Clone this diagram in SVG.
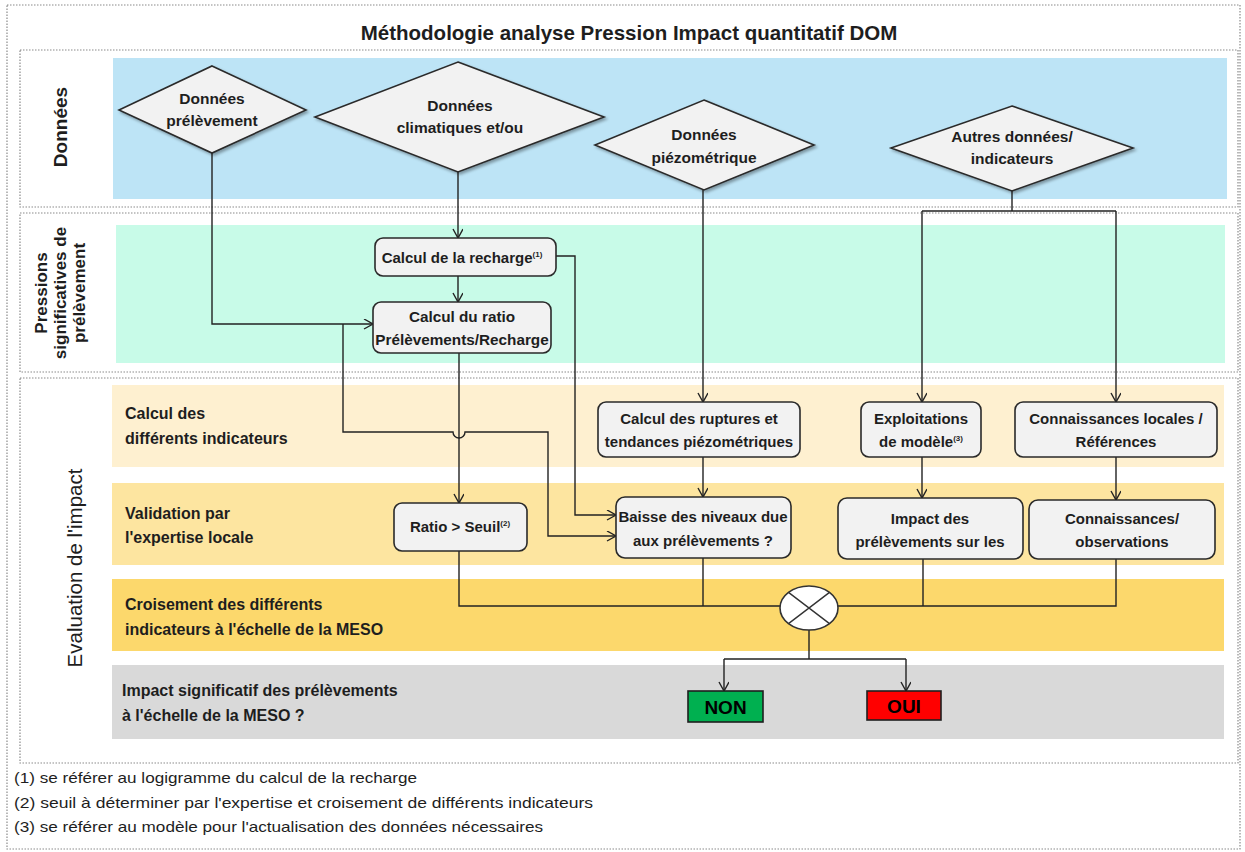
<svg xmlns="http://www.w3.org/2000/svg" width="1245" height="852" viewBox="0 0 1245 852">
<style>
text{font-family:"Liberation Sans",Arial,sans-serif;fill:#1e1e1e}
.t{font-size:20.5px;font-weight:bold;text-anchor:middle}
.sec{font-size:17px;font-weight:bold;text-anchor:middle}
.band{font-size:16px;font-weight:bold}
.bx{font-size:15px;font-weight:bold;text-anchor:middle}
.dt{font-size:15.5px;font-weight:bold;text-anchor:middle}
.sup{font-size:8px;font-weight:bold}
.fn{font-size:15px}
.frame{fill:none;stroke:#8a8a8a;stroke-width:1.2;stroke-dasharray:1.5 1.5}
.node{fill:#f2f2f2;stroke:#2a2a2a;stroke-width:1.6}
.dia{fill:#f2f2f2;stroke:#2a2a2a;stroke-width:1.6;filter:url(#sh)}
.c{fill:none;stroke:#222;stroke-width:1.4}
.ca{fill:none;stroke:#222;stroke-width:1.4;marker-end:url(#ar)}
.yn{font-size:19px;font-weight:bold;text-anchor:middle;fill:#000}
</style>
<defs>
<marker id="ar" markerUnits="userSpaceOnUse" markerWidth="12" markerHeight="12" refX="10" refY="5" orient="auto">
<path d="M1,0 L10,5 L1,10" fill="none" stroke="#222" stroke-width="1.4"/>
</marker>
<filter id="sh" x="-10%" y="-10%" width="130%" height="130%">
<feDropShadow dx="2" dy="2" stdDeviation="1.5" flood-color="#000" flood-opacity="0.35"/>
</filter>
</defs>
<rect x="0" y="0" width="1245" height="852" fill="#fff"/>
<rect x="7" y="5" width="1233" height="844" class="frame"/>
<text class="t" x="629" y="40">Méthodologie analyse Pression Impact quantitatif DOM</text>

<g id="lane-donnees">
<rect x="20" y="50" width="1218" height="157" class="frame"/>
<rect x="113" y="58" width="1114" height="141" fill="#bde4f6"/>
<text class="sec" transform="translate(67,127) rotate(-90)" style="font-size:19px">Données</text>
</g>
<g id="lane-pressions">
<rect x="20" y="213" width="1218" height="159" class="frame"/>
<rect x="116" y="225" width="1109" height="138" fill="#c8fbe8"/>
<text class="sec" transform="translate(47,293) rotate(-90)">Pressions</text>
<text class="sec" transform="translate(66,293) rotate(-90)">significatives de</text>
<text class="sec" transform="translate(85,293) rotate(-90)">prélèvement</text>
</g>
<g id="lane-evaluation">
<rect x="20" y="378" width="1218" height="385" class="frame"/>
<rect x="112" y="385" width="1112" height="82" fill="#fef0d0"/>
<rect x="112" y="483" width="1112" height="82" fill="#fde5a0"/>
<rect x="112" y="579" width="1112" height="72" fill="#fcd86c"/>
<rect x="112" y="665" width="1112" height="74" fill="#d9d9d9"/>
<text transform="translate(82,568) rotate(-90)" style="font-size:20.5px;text-anchor:middle">Evaluation de l'impact</text>
<text class="band" x="125" y="419">Calcul des</text>
<text class="band" x="125" y="444">différents indicateurs</text>
<text class="band" x="125" y="519">Validation par</text>
<text class="band" x="125" y="543">l'expertise locale</text>
<text class="band" x="125" y="610">Croisement des différents</text>
<text class="band" x="125" y="635">indicateurs à l'échelle de la MESO</text>
<text class="band" x="122" y="696">Impact significatif des prélèvements</text>
<text class="band" x="122" y="721">à l'échelle de la MESO ?</text>
</g>

<g id="connectors">
<path class="ca" d="M212,153 V324 H373"/>
<path class="ca" d="M458,172 V238"/>
<path class="ca" d="M458,276 V302"/>
<path class="ca" d="M556,256 H575 V515 H616"/>
<path class="ca" d="M343,324 V432 H453 A6,6 0 0,0 465,432 H548 V536 H616"/>
<path class="ca" d="M459,353 V503"/>
<path class="ca" d="M703,190 V402"/>
<path class="ca" d="M703,457 V497"/>
<path class="c" d="M1012,191 V211 M922,211 H1116"/>
<path class="ca" d="M922,211 V402"/>
<path class="ca" d="M1116,211 V402"/>
<path class="ca" d="M922,457 V498"/>
<path class="ca" d="M1116,457 V500"/>
<path class="c" d="M459,551 V606 H780 M703,558 V606 M923,559 V606 M1116,559 V606 H838"/>
<path class="c" d="M809,630 V659 M724,659 H906"/>
<path class="ca" d="M724,659 V691"/>
<path class="ca" d="M906,659 V691"/>
</g>

<g id="d-prelevement">
<polygon class="dia" points="212,66 306,110 212,153 119,110"/>
<text class="dt" x="212" y="104">Données</text>
<text class="dt" x="212" y="126">prélèvement</text>
</g>
<g id="d-climatiques">
<polygon class="dia" points="458,62 604,117 458,172 315,117"/>
<text class="dt" x="460" y="111">Données</text>
<text class="dt" x="460" y="133">climatiques et/ou</text>
</g>
<g id="d-piezo">
<polygon class="dia" points="704,100 814,145 704,190 595,145"/>
<text class="dt" x="704" y="140">Données</text>
<text class="dt" x="704" y="163">piézométrique</text>
</g>
<g id="d-autres">
<polygon class="dia" points="1012,106 1133,148 1012,191 891,148"/>
<text class="dt" x="1012" y="142">Autres données/</text>
<text class="dt" x="1012" y="164">indicateurs</text>
</g>

<g id="n-recharge">
<rect class="node" x="375" y="238" width="181" height="38" rx="8"/>
<text class="bx" x="462" y="263">Calcul de la recharge<tspan class="sup" dy="-6">(1)</tspan></text>
</g>
<g id="n-ratio">
<rect class="node" x="373" y="302" width="178" height="51" rx="8"/>
<text class="bx" x="462" y="322" style="font-size:15.3px">Calcul du ratio</text>
<text class="bx" x="462" y="345" style="font-size:15.3px">Prélèvements/Recharge</text>
</g>
<g id="n-ruptures">
<rect class="node" x="598" y="402" width="202" height="55" rx="8"/>
<text class="bx" x="699" y="424">Calcul des ruptures et</text>
<text class="bx" x="699" y="447">tendances piézométriques</text>
</g>
<g id="n-exploitations">
<rect class="node" x="861" y="402" width="120" height="55" rx="8"/>
<text class="bx" x="921" y="424">Exploitations</text>
<text class="bx" x="921" y="447">de modèle<tspan class="sup" dy="-6">(3)</tspan></text>
</g>
<g id="n-connaissances-locales">
<rect class="node" x="1015" y="402" width="202" height="55" rx="8"/>
<text class="bx" x="1116" y="424">Connaissances locales /</text>
<text class="bx" x="1116" y="447">Références</text>
</g>
<g id="n-seuil">
<rect class="node" x="394" y="503" width="133" height="48" rx="8"/>
<text class="bx" x="460" y="532">Ratio &gt; Seuil<tspan class="sup" dy="-6">(2)</tspan></text>
</g>
<g id="n-baisse">
<rect class="node" x="616" y="497" width="175" height="61" rx="9"/>
<text class="bx" x="703" y="522">Baisse des niveaux due</text>
<text class="bx" x="703" y="546">aux prélèvements ?</text>
</g>
<g id="n-impact">
<rect class="node" x="838" y="498" width="185" height="61" rx="9"/>
<text class="bx" x="930" y="524">Impact des</text>
<text class="bx" x="930" y="547">prélèvements sur les</text>
</g>
<g id="n-observations">
<rect class="node" x="1029" y="500" width="186" height="59" rx="9"/>
<text class="bx" x="1122" y="524">Connaissances/</text>
<text class="bx" x="1122" y="547">observations</text>
</g>
<g id="n-croisement">
<ellipse cx="809" cy="608" rx="29" ry="22" fill="#fff" stroke="#333" stroke-width="1.6"/>
<path d="M788.5,592.4 L829.5,623.6 M829.5,592.4 L788.5,623.6" stroke="#333" stroke-width="1.4"/>
</g>
<g id="n-non">
<rect x="688" y="691" width="75" height="31" fill="#00b050" stroke="#1e1e1e" stroke-width="1.6"/>
<text class="yn" x="725.5" y="714">NON</text>
</g>
<g id="n-oui">
<rect x="867" y="691" width="74" height="29" fill="#ff0000" stroke="#1e1e1e" stroke-width="1.6"/>
<text class="yn" x="904" y="712.5">OUI</text>
</g>

<g id="footnotes">
<text class="fn" x="14" y="783" textLength="403" lengthAdjust="spacingAndGlyphs">(1) se référer au logigramme du calcul de la recharge</text>
<text class="fn" x="14" y="808" textLength="579" lengthAdjust="spacingAndGlyphs">(2) seuil à déterminer par l'expertise et croisement de différents indicateurs</text>
<text class="fn" x="14" y="832" textLength="529" lengthAdjust="spacingAndGlyphs">(3) se référer au modèle pour l'actualisation des données nécessaires</text>
</g>
</svg>
